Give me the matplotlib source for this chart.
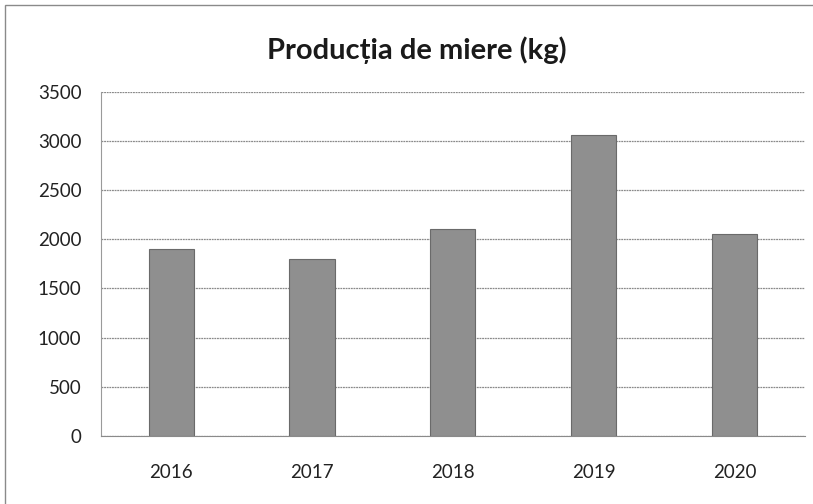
import matplotlib
matplotlib.use("Agg")
import matplotlib.pyplot as plt
from matplotlib.patches import Rectangle

years = ["2016", "2017", "2018", "2019", "2020"]
production = [1900, 1800, 2100, 3060, 2050]
yticks = [0, 500, 1000, 1500, 2000, 2500, 3000, 3500]
title = "Producția de miere (kg)"

plt.rcParams['font.family'] = ['Lato', 'DejaVu Sans']

fig = plt.figure(figsize=(8.13, 5.04), dpi=100)
ax = fig.add_axes([0.124, 0.135, 0.866, 0.683])

x = list(range(len(years)))
ax.bar(x, production, width=0.32, color="#8f8f8f", edgecolor="#6a6a6a",
       linewidth=0.8, zorder=3)

ax.set_xlim(-0.5, len(years) - 0.5)
ax.set_ylim(0, 3500)
ax.set_yticks(yticks)
ax.set_yticklabels([str(v) for v in yticks], fontsize=13.5, color="#222222")
ax.set_xticks(x)
ax.set_xticklabels(years, fontsize=13.5, color="#222222")
ax.tick_params(axis='y', length=0, pad=14)
ax.tick_params(axis='x', length=0, pad=20)

ax.yaxis.grid(True, color="#8a8a8a", linewidth=0.9, linestyle=(0, (1.5, 0.6)), zorder=0)
for s in ["top", "right"]:
    ax.spines[s].set_visible(False)
ax.spines["left"].set_color("#9a9a9a")
ax.spines["bottom"].set_color("#8a8a8a")

fig.text(0.513, 0.90, title, ha="center", va="center", fontsize=21,
         fontweight="bold", color="#1a1a1a")

fig.patches.append(Rectangle((0.006, -0.01), 0.995, 1.0, transform=fig.transFigure,
                             fill=False, edgecolor="#8a8a8a", linewidth=1.0))

fig.savefig("out.png", dpi=100)
